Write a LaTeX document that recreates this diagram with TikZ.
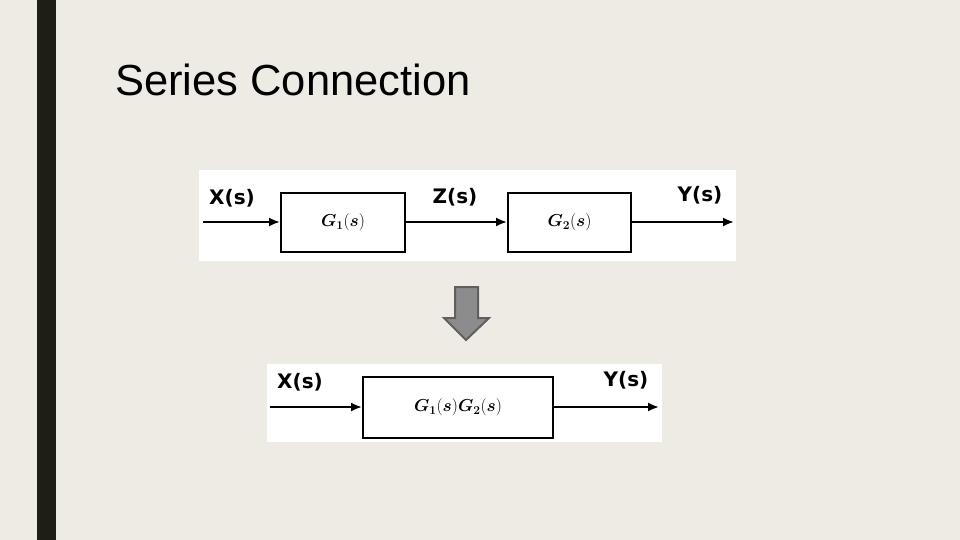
\documentclass[tikz,border=0pt]{standalone}
\usepackage{fontspec}
\setmainfont{Liberation Sans}
\newfontfamily\lblfont{DejaVu Sans}
\usepackage{amsmath}
\usetikzlibrary{arrows.meta}
\begin{document}
\begin{tikzpicture}[x=1pt,y=-1pt,
  blk/.style={draw=black,line width=2pt,fill=white,inner sep=0pt,font=\fontsize{18}{19}\selectfont},
  sig/.style={-{Latex[length=11pt,width=9pt]},line width=2pt},
  lbl/.style={font=\lblfont\fontsize{20}{22}\selectfont\bfseries,inner sep=0pt}]
\fill[fill={rgb,255:red,238;green,235;blue,228}] (0,0) rectangle (960,540);
\useasboundingbox (0,0) rectangle (960,540);
\fill[fill={rgb,255:red,30;green,30;blue,20}] (37,0) rectangle (56,540);
\node[anchor=base west,inner sep=0pt,font=\fontsize{43.5}{45}\selectfont] (title) at (115,96) {Series Connection};
% top diagram
\fill[white] (199,170) rectangle (736,261);
\node[blk,minimum width=124,minimum height=59] (g1) at (343,222.5) {$\boldsymbol{G_1}(\boldsymbol{s})$};
\node[blk,minimum width=123,minimum height=59] (g2) at (569.5,222.5) {$\boldsymbol{G_2}(\boldsymbol{s})$};
\coordinate (xin) at (203,222);
\coordinate (yout) at (734,222);
\draw[sig] (xin) -- (g1.west|-xin);
\draw[sig] (g1.east|-xin) -- (g2.west|-xin);
\draw[sig] (g2.east|-xin) -- (yout);
\node[lbl] (lx) at (232,198) {X(s)};
\node[lbl] (lz) at (455,197) {Z(s)};
\node[lbl] (ly) at (700,195) {Y(s)};
% arrow
\filldraw[fill={rgb,255:red,140;green,140;blue,140},draw={rgb,255:red,95;green,95;blue,95},line width=2pt]
 (455,287) -- (478,287) -- (478,318) -- (489,318) -- (466,340) -- (444,318) -- (455,318) -- cycle;
% bottom diagram
\fill[white] (267,364) rectangle (662,442);
\node[blk,minimum width=190,minimum height=61] (g) at (458,407.5) {$\boldsymbol{G_1}(\boldsymbol{s})\boldsymbol{G_2}(\boldsymbol{s})$};
\coordinate (xin2) at (270,407);
\coordinate (yout2) at (659,407);
\draw[sig] (xin2) -- (g.west|-xin2);
\draw[sig] (g.east|-xin2) -- (yout2);
\node[lbl] (lx2) at (300,382) {X(s)};
\node[lbl] (ly2) at (626,380) {Y(s)};
\end{tikzpicture}
\end{document}
